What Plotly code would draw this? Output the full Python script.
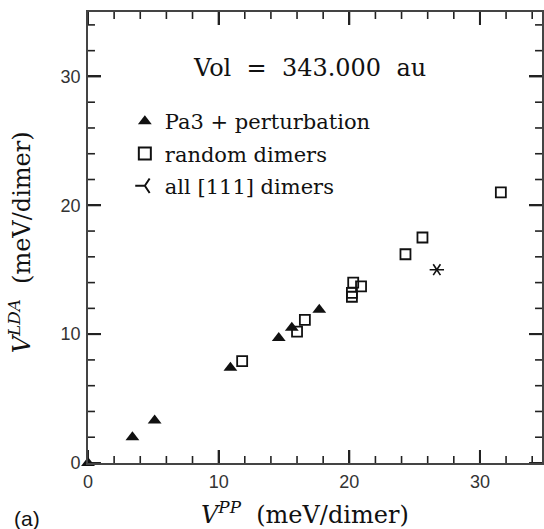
import plotly.graph_objects as go

# V^PP vs V^LDA interaction energies (meV/dimer) at Vol = 343.000 au
pa3_vpp = [0.0, 3.4, 5.1, 10.9, 14.6, 15.6, 17.7]
pa3_vlda = [0.0, 2.0, 3.3, 7.4, 9.7, 10.5, 11.9]

rand_vpp = [11.8, 16.0, 16.6, 20.2, 20.2, 20.3, 20.9, 24.3, 25.6, 31.6]
rand_vlda = [7.9, 10.2, 11.1, 12.9, 13.2, 14.0, 13.7, 16.2, 17.5, 21.0]

dimer111_vpp = [26.7]
dimer111_vlda = [15.0]

x_ticks = [0, 10, 20, 30]
y_ticks = [0, 10, 20, 30]
MINOR_PER_MAJOR = 5

X_RANGE = [0, 34.75]
Y_RANGE = [0, 35]

W, H = 544, 529
L, R, T, B = 88, 0, 12, 66
PW, PH = W - L - R, H - T - B


def fx(px):
    return (px - L) / PW


def fy(py):
    return (H - B - py) / PH


SERIF = "DejaVu Serif"
SANS = "Liberation Sans"
INK = "#111111"
TICK_INK = "#222222"

fig = go.Figure()


# inward tick marks on all four sides, drawn as line segments in axis units
def tick_positions(ticks, rng):
    step = (ticks[1] - ticks[0]) / MINOR_PER_MAJOR
    out, k = [], 0
    while ticks[0] + k * step <= rng[1] + 1e-9:
        out.append((ticks[0] + k * step, k % MINOR_PER_MAJOR == 0))
        k += 1
    return out


def tick_segments(major, length_px):
    xs, ys = [], []
    dx = length_px * (X_RANGE[1] - X_RANGE[0]) / PW
    dy = length_px * (Y_RANGE[1] - Y_RANGE[0]) / PH
    for v, is_major in tick_positions(x_ticks, X_RANGE):
        if is_major != major:
            continue
        xs += [v, v, None, v, v, None]
        ys += [Y_RANGE[0], Y_RANGE[0] + dy, None, Y_RANGE[1], Y_RANGE[1] - dy, None]
    for v, is_major in tick_positions(y_ticks, Y_RANGE):
        if is_major != major:
            continue
        xs += [X_RANGE[0], X_RANGE[0] + dx, None, X_RANGE[1], X_RANGE[1] - dx, None]
        ys += [v, v, None, v, v, None]
    return xs, ys


for major, length, width in ((True, 13, 2), (False, 7, 1.6)):
    tx, ty = tick_segments(major, length)
    fig.add_trace(go.Scatter(
        x=tx, y=ty, mode="lines", showlegend=False, hoverinfo="skip",
        line=dict(color=TICK_INK, width=width),
    ))

fig.add_trace(go.Scatter(
    x=pa3_vpp, y=pa3_vlda, mode="markers", name="Pa3 + perturbation",
    legendgroup="a",
    marker=dict(symbol="triangle-up", size=12, color=INK, line=dict(width=0)),
    cliponaxis=False,
))
fig.add_trace(go.Scatter(
    x=rand_vpp, y=rand_vlda, mode="markers", name="random dimers",
    legendgroup="b",
    marker=dict(symbol="square-open", size=10, color=INK, line=dict(width=1.8, color=INK)),
))
# six-spoke asterisk built from two opposing Y symbols
fig.add_trace(go.Scatter(
    x=dimer111_vpp, y=dimer111_vlda, mode="markers", name="all [111] dimers",
    legendgroup="c",
    marker=dict(symbol="y-left-open", size=9, color=INK, line=dict(width=1.6, color=INK)),
))
fig.add_trace(go.Scatter(
    x=dimer111_vpp, y=dimer111_vlda, mode="markers", showlegend=False,
    legendgroup="c",
    marker=dict(symbol="y-right-open", size=9, color=INK, line=dict(width=1.6, color=INK)),
))


def axis_style(ticks, rng, standoff):
    step = ticks[1] - ticks[0]
    return dict(
        range=rng,
        showline=True, linecolor="#444444", linewidth=1.6, mirror="allticks",
        tickmode="linear", tick0=ticks[0], dtick=step,
        ticks="inside", ticklen=13, tickwidth=2, tickcolor=TICK_INK,
        showgrid=False, zeroline=False,
        ticklabelstandoff=standoff,
        tickfont=dict(family=SANS, size=18, color="#333333"),
    )


fig.update_layout(
    xaxis=axis_style(x_ticks, X_RANGE, 2),
    yaxis=axis_style(y_ticks, Y_RANGE, 2),
)

nb = "\u00a0"
annotations = [
    dict(text=f"Vol{nb}{nb}={nb}{nb}343.000{nb}{nb}au", x=fx(310), y=fy(68),
         xanchor="center", yanchor="middle",
         xref="paper", yref="paper", showarrow=False,
         font=dict(family=SERIF, size=24, color=INK)),
    dict(text=f"<i>V</i><sup><i>PP</i></sup>{nb}{nb}(meV/dimer)", x=fx(306), y=fy(513),
         xanchor="center", yanchor="middle",
         xref="paper", yref="paper", showarrow=False,
         font=dict(family=SERIF, size=24, color=INK)),
    dict(text=f"<i>V</i><sup><i>LDA</i></sup>{nb}{nb}(meV/dimer)", x=fx(20), y=fy(242),
         xanchor="center", yanchor="middle",
         xref="paper", yref="paper", showarrow=False, textangle=-90,
         font=dict(family=SERIF, size=24, color=INK)),
    dict(text="(a)", x=fx(12), y=fy(518), xref="paper", yref="paper",
         xanchor="left", yanchor="middle", showarrow=False,
         font=dict(family=SANS, size=21, color=INK)),
]

fig.update_layout(
    width=W, height=H,
    margin=dict(l=L, r=R, t=T, b=B, pad=0),
    paper_bgcolor="white", plot_bgcolor="white",
    font=dict(family=SERIF, color=INK),
    annotations=annotations,
    showlegend=True,
    legend=dict(x=fx(125), y=fy(101), xanchor="left", yanchor="top",
                bgcolor="rgba(0,0,0,0)", borderwidth=0, tracegroupgap=2,
                font=dict(family=SERIF, size=21, color=INK),
                itemsizing="constant"),
)

fig.write_html("out.html")
